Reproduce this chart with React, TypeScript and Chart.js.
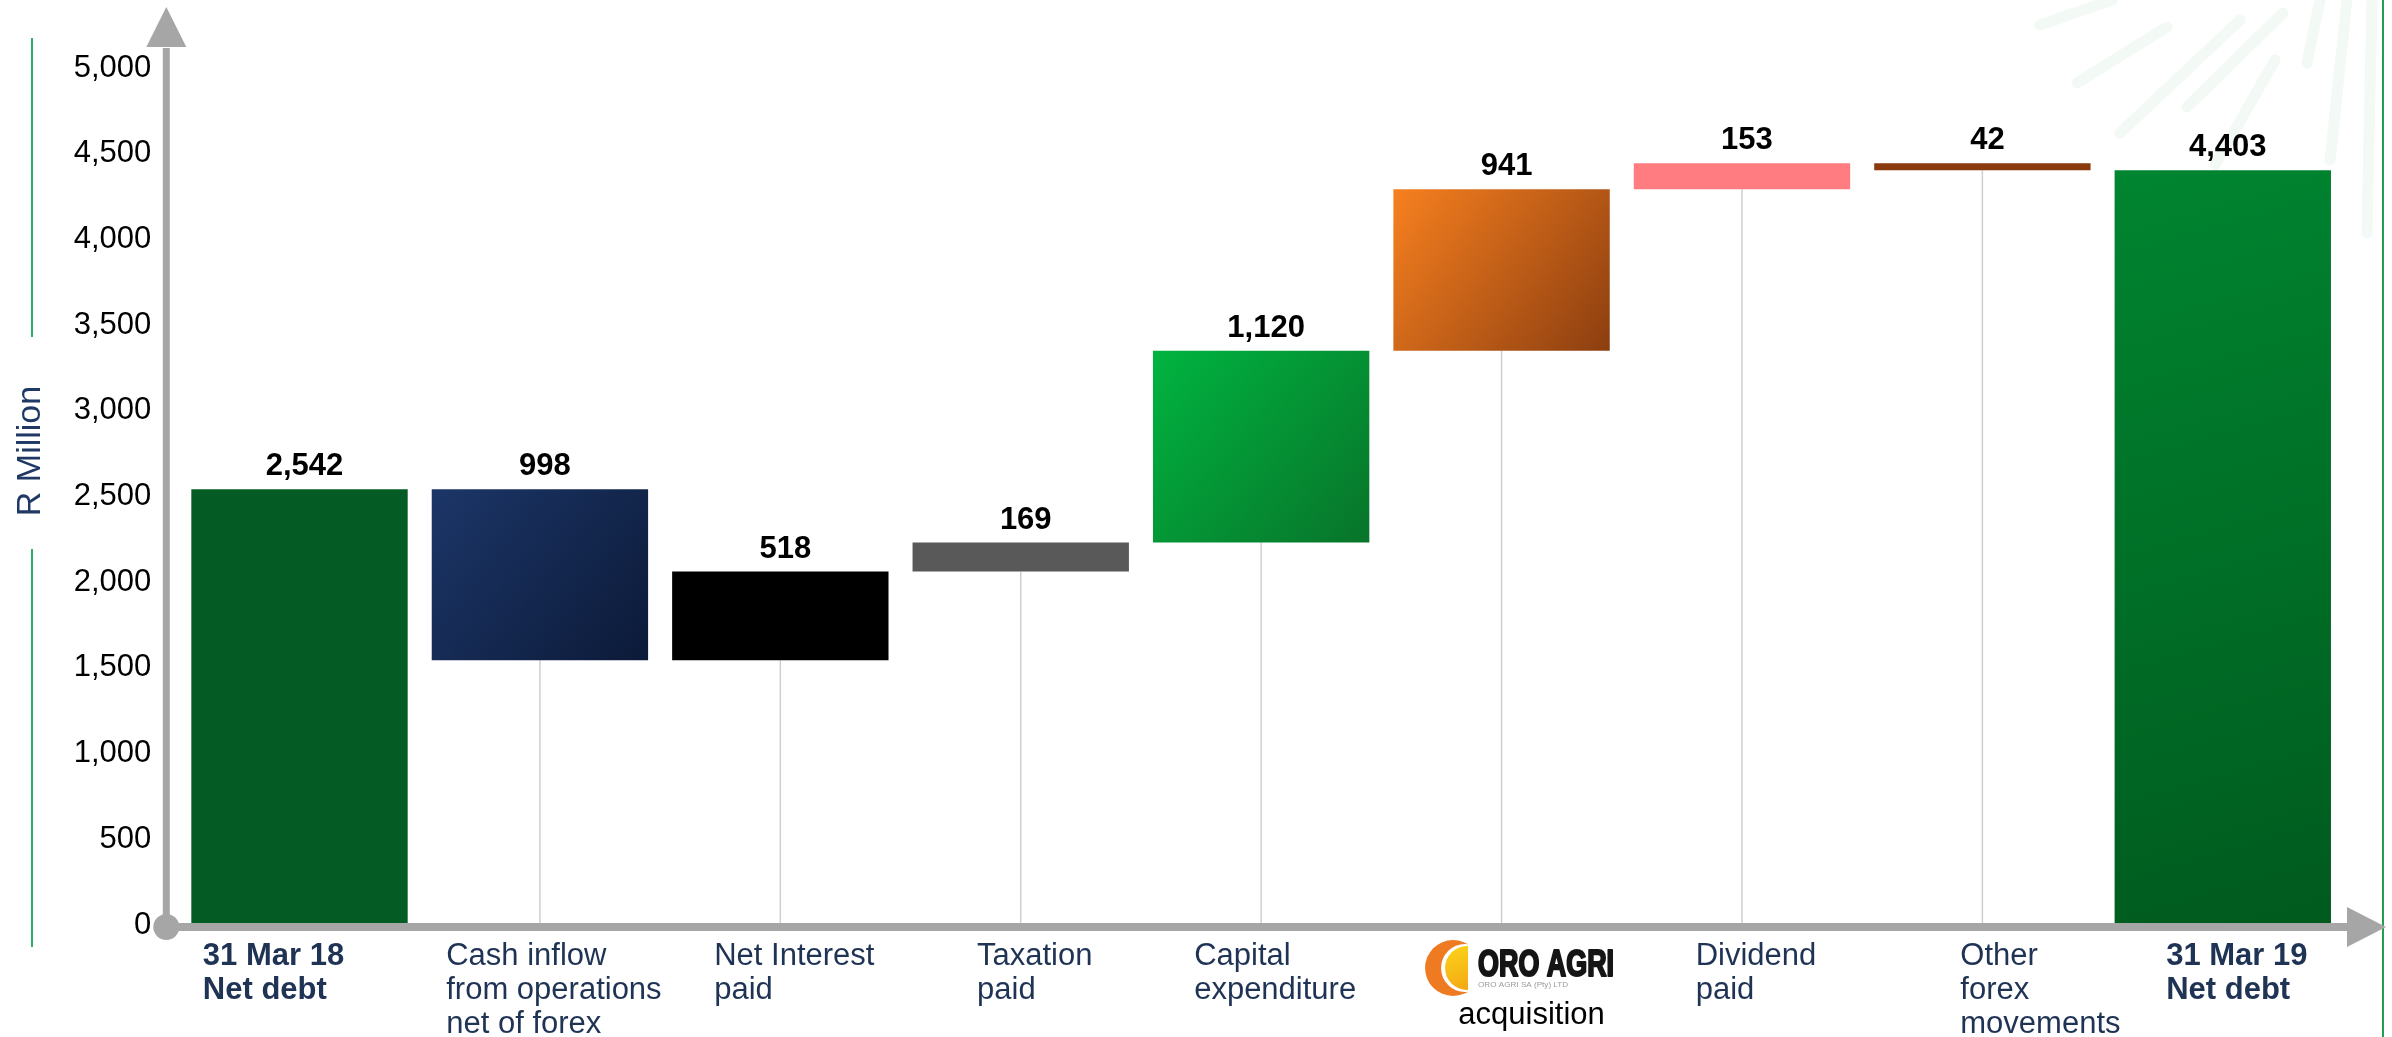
import React, { useEffect, useRef } from 'react';
import { Chart, registerables } from 'chart.js';

Chart.register(...registerables);

// ---------- data ----------
const categories: string[][] = [
  ['31 Mar 18', 'Net debt'],
  ['Cash inflow', 'from operations', 'net of forex'],
  ['Net Interest', 'paid'],
  ['Taxation', 'paid'],
  ['Capital', 'expenditure'],
  ['ORO AGRI', 'acquisition'],
  ['Dividend', 'paid'],
  ['Other', 'forex', 'movements'],
  ['31 Mar 19', 'Net debt'],
];
const boldCategory = [true, false, false, false, false, false, false, false, true];
const openingNetDebt = 2542;
const movements = [-998, 518, 169, 1120, 941, 153, -42];
const closingNetDebt = 4403;
const valueLabels = ['2,542', '998', '518', '169', '1,120', '941', '153', '42', '4,403'];
const yMin = 0;
const yMax = 5000;
const yStep = 500;
const axisTitle = 'R Million';
const logoSubText = 'ORO AGRI SA (Pty) LTD';

const colorStart = ['#045c24', '#1c3668', '#000000', '#595959', '#00b440', '#f7801f', '#ff7c80', '#8b3a0e', '#008530'];
const colorEnd = ['#045c24', '#0c1a38', '#000000', '#595959', '#08742a', '#8c3e10', '#ff7c80', '#8b3a0e', '#005a1e'];

// floating ranges for the waterfall, built from the values above
const ranges: [number, number][] = [];
ranges.push([0, openingNetDebt]);
{
  let level = openingNetDebt;
  for (const m of movements) {
    const next = level + m;
    ranges.push([Math.min(level, next), Math.max(level, next)]);
    level = next;
  }
}
ranges.push([0, closingNetDebt]);

// styling: horizontal nudges for the category text blocks (layout only)
const labelNudge = [-40, 0, 0, 0, 0, 0, 0, 44, 0];

const FONT = '"Liberation Sans", Arial, sans-serif';
const NAVY = '#1f3354';
const AXIS_GREY = '#a6a6a6';

const decorPlugin = {
  id: 'decor',
  beforeDraw(chart: any) {
    const ctx = chart.ctx as CanvasRenderingContext2D;
    ctx.save();
    ctx.fillStyle = '#ffffff';
    ctx.fillRect(0, 0, chart.width, chart.height);
    // faint sunburst decoration
    ctx.strokeStyle = '#f3f9f5';
    ctx.lineCap = 'round';
    ctx.lineWidth = 11;
    const strokes = [
      [2040, 25, 2112, 0], [2077, 83, 2167, 27], [2120, 133, 2240, 20], [2187, 107, 2283, 13],
      [2307, 63, 2320, 0], [2330, 160, 2347, 0], [2367, 233, 2372, 0], [2215, 165, 2275, 60],
    ];
    for (const s of strokes) {
      ctx.beginPath();
      ctx.moveTo(s[0], s[1]);
      ctx.lineTo(s[2], s[3]);
      ctx.stroke();
    }
    // green decorative lines
    ctx.strokeStyle = '#2bb060';
    ctx.lineCap = 'butt';
    ctx.lineWidth = 2;
    ctx.beginPath();
    ctx.moveTo(32, 38); ctx.lineTo(32, 337);
    ctx.moveTo(32, 549); ctx.lineTo(32, 947);
    ctx.stroke();
    ctx.strokeStyle = '#1fa050';
    ctx.beginPath();
    ctx.moveTo(2383, 0); ctx.lineTo(2383, chart.height);
    ctx.stroke();
    ctx.restore();
  },
  beforeDatasetsDraw(chart: any) {
    const ctx = chart.ctx as CanvasRenderingContext2D;
    const x = chart.scales.x, y = chart.scales.y;
    const y0 = y.getPixelForValue(0);
    ctx.save();
    ctx.strokeStyle = '#cfcfcf';
    ctx.lineWidth = 1.5;
    for (let i = 1; i < ranges.length - 1; i++) {
      const cx = x.getPixelForValue(i);
      ctx.beginPath();
      ctx.moveTo(cx, y.getPixelForValue(ranges[i][0]));
      ctx.lineTo(cx, y0);
      ctx.stroke();
    }
    ctx.restore();
  },
  afterDraw(chart: any) {
    const ctx = chart.ctx as CanvasRenderingContext2D;
    const area = chart.chartArea;
    const x = chart.scales.x, y = chart.scales.y;
    const y0 = y.getPixelForValue(0);
    const axX = area.left - 13;
    const axY = y0 + 2;
    ctx.save();
    // axes
    ctx.strokeStyle = AXIS_GREY;
    ctx.fillStyle = AXIS_GREY;
    ctx.lineWidth = 7;
    ctx.beginPath();
    ctx.moveTo(axX, axY);
    ctx.lineTo(axX, area.top - 20);
    ctx.stroke();
    ctx.beginPath();
    ctx.moveTo(axX - 20, area.top - 21);
    ctx.lineTo(axX + 20, area.top - 21);
    ctx.lineTo(axX, area.top - 61);
    ctx.closePath();
    ctx.fill();
    ctx.lineWidth = 8;
    ctx.beginPath();
    ctx.moveTo(axX, axY);
    ctx.lineTo(area.right + 6, axY);
    ctx.stroke();
    ctx.beginPath();
    ctx.moveTo(area.right + 4, axY - 20);
    ctx.lineTo(area.right + 4, axY + 20);
    ctx.lineTo(area.right + 43, axY);
    ctx.closePath();
    ctx.fill();
    ctx.beginPath();
    ctx.arc(axX, axY, 13, 0, Math.PI * 2);
    ctx.fill();

    // value labels
    ctx.fillStyle = '#000000';
    ctx.font = `bold 31px ${FONT}`;
    ctx.textAlign = 'center';
    ctx.textBaseline = 'alphabetic';
    for (let i = 0; i < ranges.length; i++) {
      const cx = x.getPixelForValue(i);
      const top = y.getPixelForValue(ranges[i][1]);
      ctx.fillText(valueLabels[i], cx + 5, top - 14);
    }

    // category labels
    ctx.textAlign = 'left';
    for (let i = 0; i < categories.length; i++) {
      const cx = x.getPixelForValue(i);
      const lines = categories[i];
      if (lines[0] === 'ORO AGRI') {
        drawLogo(ctx, cx, y0);
        ctx.fillStyle = '#000000';
        ctx.font = `31px ${FONT}`;
        ctx.textAlign = 'center';
        ctx.fillText(lines[1], cx + 30, y0 + 99);
        ctx.textAlign = 'left';
        continue;
      }
      ctx.font = `${boldCategory[i] ? 'bold ' : ''}31px ${FONT}`;
      ctx.fillStyle = NAVY;
      let bw = 0;
      for (const l of lines) bw = Math.max(bw, ctx.measureText(l).width);
      const sx = cx - bw / 2 + 14 + labelNudge[i];
      lines.forEach((l, k) => ctx.fillText(l, sx, y0 + 40 + k * 34));
    }

    // y axis title
    ctx.save();
    ctx.translate(31, 451);
    ctx.rotate(-Math.PI / 2);
    ctx.font = `34px ${FONT}`;
    ctx.fillStyle = '#1f3864';
    ctx.textAlign = 'center';
    ctx.textBaseline = 'middle';
    ctx.fillText(axisTitle, 0, 0);
    ctx.restore();

    ctx.restore();
  },
};

function drawLogo(ctx: CanvasRenderingContext2D, cx: number, y0: number) {
  const ccx = cx - 48.5;
  const ccy = y0 + 43;
  ctx.save();
  ctx.beginPath();
  ctx.rect(ccx - 40, ccy - 40, 55, 80);
  ctx.clip();
  ctx.fillStyle = '#ee7a22';
  ctx.beginPath(); ctx.arc(ccx, ccy, 28, 0, Math.PI * 2); ctx.fill();
  ctx.fillStyle = '#ffffff';
  ctx.beginPath(); ctx.arc(ccx + 12, ccy, 24, 0, Math.PI * 2); ctx.fill();
  const g = ctx.createLinearGradient(ccx, ccy - 22, ccx + 14, ccy + 22);
  g.addColorStop(0, '#fbd21a');
  g.addColorStop(1, '#f3a814');
  ctx.fillStyle = g;
  ctx.beginPath(); ctx.arc(ccx + 14, ccy, 22, 0, Math.PI * 2); ctx.fill();
  ctx.restore();

  // logo wordmark
  ctx.save();
  ctx.fillStyle = '#151515';
  ctx.strokeStyle = '#151515';
  ctx.lineWidth = 2.2;
  ctx.lineJoin = 'round';
  ctx.font = `bold 36px ${FONT}`;
  ctx.textAlign = 'left';
  const w = ctx.measureText('ORO AGRI').width;
  const tx = cx - 23.5;
  ctx.translate(tx, y0 + 51);
  ctx.scale(136 / w, 1);
  ctx.fillText('ORO AGRI', 0, 0);
  ctx.strokeText('ORO AGRI', 0, 0);
  ctx.restore();

  ctx.save();
  ctx.fillStyle = '#9a9a9a';
  ctx.font = `8px ${FONT}`;
  const w2 = ctx.measureText(logoSubText).width;
  ctx.translate(tx, y0 + 62);
  ctx.scale(90 / w2, 1);
  ctx.fillText(logoSubText, 0, 0);
  ctx.restore();
}

export default function App() {
  const ref = useRef<HTMLCanvasElement | null>(null);
  useEffect(() => {
    if (!ref.current) return;
    const chart = new Chart(ref.current, {
      type: 'bar',
      data: {
        labels: categories.map((c) => c.join(' ')),
        datasets: [
          {
            data: ranges as any,
            barPercentage: 0.9,
            categoryPercentage: 1,
            borderWidth: 0,
            backgroundColor: (c: any) => {
              const i = c.dataIndex;
              if (i == null) return colorStart[0];
              const chart = c.chart;
              const xs = chart.scales?.x, ys = chart.scales?.y;
              if (!xs || !ys || colorStart[i] === colorEnd[i]) return colorStart[i];
              const cx = xs.getPixelForValue(i);
              const half = 108;
              const top = ys.getPixelForValue(ranges[i][1]);
              const bot = ys.getPixelForValue(ranges[i][0]);
              const g = chart.ctx.createLinearGradient(cx - half, top, cx + half, bot);
              g.addColorStop(0, colorStart[i]);
              g.addColorStop(1, colorEnd[i]);
              return g;
            },
          },
        ],
      },
      options: {
        animation: false,
        responsive: false,
        devicePixelRatio: 1,
        layout: { padding: { top: 68, bottom: 112, left: 0, right: 49 } },
        plugins: { legend: { display: false }, tooltip: { enabled: false } },
        scales: {
          x: { display: false, type: 'category' },
          y: {
            min: yMin,
            max: yMax,
            grid: { display: false, drawTicks: false },
            border: { display: false },
            ticks: {
              stepSize: yStep,
              padding: 28,
              color: '#000000',
              font: { family: FONT, size: 31 },
              callback: (v: any) => Number(v).toLocaleString('en-US'),
            },
            afterFit: (s: any) => {
              s.width = 179.3;
            },
          },
        },
      },
      plugins: [decorPlugin],
    });
    return () => chart.destroy();
  }, []);
  return (
    <div style={{ position: 'fixed', left: 0, top: 0, width: 2392, height: 1037 }}>
      <canvas ref={ref} width={2392} height={1037} style={{ width: 2392, height: 1037 }} />
    </div>
  );
}
